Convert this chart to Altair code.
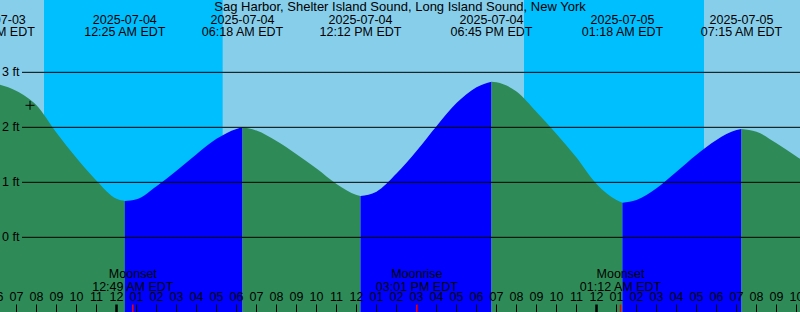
import altair as alt
import pandas as pd

# ---------------- data ----------------
station = "Sag Harbor, Shelter Island Sound, Long Island Sound, New York"
origin = pd.Timestamp("2025-07-04 00:00")
view_start = "2025-07-03 18:10:30"
view_end = "2025-07-05 10:10:30"

extreme_times = ["2025-07-03 17:52", "2025-07-04 00:25", "2025-07-04 06:18",
                 "2025-07-04 12:12", "2025-07-04 18:45", "2025-07-05 01:18",
                 "2025-07-05 07:15"]
extreme_levels = [2.80, 0.66, 2.00, 0.75, 2.83, 0.63, 1.97]
extreme_kinds = ["High", "Low", "High", "Low", "High", "Low", "High"]
extreme_dates = ["2025-07-03", "2025-07-04", "2025-07-04", "2025-07-04",
                 "2025-07-04", "2025-07-05", "2025-07-05"]
extreme_clock = ["05:52 PM EDT", "12:25 AM EDT", "06:18 AM EDT", "12:12 PM EDT",
                 "06:45 PM EDT", "01:18 AM EDT", "07:15 AM EDT"]

reading_times = [
    "2025-07-03 18:00", "2025-07-03 19:00", "2025-07-03 20:00", "2025-07-03 21:00",
    "2025-07-03 22:00", "2025-07-03 23:00", "2025-07-04 00:00", "2025-07-04 01:00",
    "2025-07-04 02:00", "2025-07-04 03:00", "2025-07-04 04:00", "2025-07-04 05:00",
    "2025-07-04 06:00", "2025-07-04 07:00", "2025-07-04 08:00", "2025-07-04 09:00",
    "2025-07-04 10:00", "2025-07-04 11:00", "2025-07-04 12:00", "2025-07-04 13:00",
    "2025-07-04 14:00", "2025-07-04 15:00", "2025-07-04 16:00", "2025-07-04 17:00",
    "2025-07-04 18:00", "2025-07-04 19:00", "2025-07-04 20:00", "2025-07-04 21:00",
    "2025-07-04 22:00", "2025-07-04 23:00", "2025-07-05 00:00", "2025-07-05 01:00",
    "2025-07-05 02:00", "2025-07-05 03:00", "2025-07-05 04:00", "2025-07-05 05:00",
    "2025-07-05 06:00", "2025-07-05 07:00", "2025-07-05 08:00", "2025-07-05 09:00",
    "2025-07-05 10:00", "2025-07-05 10:30"]
reading_levels = [
    2.79, 2.66, 2.40, 1.90,
    1.44, 1.03, 0.70, 0.69,
    0.93, 1.21, 1.51, 1.79,
    1.97, 1.94, 1.75, 1.51,
    1.25, 0.97, 0.77, 0.83,
    1.16, 1.57, 2.02, 2.44,
    2.73, 2.82, 2.65, 2.28,
    1.88, 1.45, 0.97, 0.68,
    0.68, 0.89, 1.19, 1.50,
    1.77, 1.95, 1.92, 1.71,
    1.47, 1.35]

sunset_times = ["2025-07-03 20:22:30", "2025-07-04 20:22:30"]
sunrise_times = ["2025-07-04 05:18:30", "2025-07-05 05:22:30"]

moon_events = ["Moonset", "Moonrise", "Moonset"]
moon_times = ["2025-07-04 00:49", "2025-07-04 15:01", "2025-07-05 01:12"]
moon_clock = ["12:49 AM EDT", "03:01 PM EDT", "01:12 AM EDT"]

level_ticks = [0, 1, 2, 3]
level_labels = ["0 ft", "1 ft", "2 ft", "3 ft"]

hour_ticks = list(range(-6, 35))          # hours from 2025-07-04 00:00
hour_labels = ["%02d" % ((h % 12) or 12) for h in hour_ticks]

now_time = "2025-07-03 19:40:30"
now_level = 2.40

level_domain = [-1.358, 4.315]

# ---------------- tables ----------------
def hrs(s):
    return (pd.Timestamp(s) - origin).total_seconds() / 3600.0

ext_h = [hrs(t) for t in extreme_times]
pts = sorted([(hrs(t), v) for t, v in zip(reading_times, reading_levels)] +
             list(zip(ext_h, extreme_levels)))
rows = []
for i in range(len(ext_h)):
    lo = ext_h[i]
    hi = ext_h[i + 1] if i + 1 < len(ext_h) else 1e9
    phase = "falling" if extreme_kinds[i] == "High" else "rising"
    for h, v in pts:
        if lo <= h <= hi:
            rows.append({"t": h, "level": v, "seg": i, "phase": phase})
tide = pd.DataFrame(rows)

night = pd.DataFrame({"start": [hrs(t) for t in sunset_times],
                      "end": [hrs(t) for t in sunrise_times]})
ext = pd.DataFrame({"t": ext_h, "date": extreme_dates, "clock": extreme_clock})
moon = pd.DataFrame({"t": [hrs(t) for t in moon_times], "event": moon_events,
                     "clock": moon_clock})
levels = pd.DataFrame({"level": level_ticks, "label": level_labels})
hours = pd.DataFrame({"t": hour_ticks, "label": hour_labels,
                      "midnight": [h % 24 == 0 for h in hour_ticks]})
now = pd.DataFrame({"t": [hrs(now_time)], "level": [now_level]})
title_df = pd.DataFrame({"text": [station]})

FONT = "Liberation Sans"
FS = 12.5
xs = alt.Scale(domain=[hrs(view_start), hrs(view_end)], nice=False, zero=False)
ys = alt.Scale(domain=level_domain, nice=False, zero=False)
X = lambda f: alt.X(f, type="quantitative", scale=xs, axis=None)
Y = lambda f: alt.Y(f, type="quantitative", scale=ys, axis=None, stack=None)

night_layer = alt.Chart(night).mark_rect(color="#00BFFF").encode(
    x=X("start"), x2="end", y=alt.value(0), y2=alt.value(312))

area = alt.Chart(tide).mark_area(interpolate="monotone", clip=True,
                                 orient="vertical").encode(
    x=X("t"), y=Y("level"), y2=alt.datum(level_domain[0]),
    color=alt.Color("phase:N", scale=alt.Scale(domain=["falling", "rising"],
                                               range=["#2E8B57", "#0000FF"]),
                    legend=None),
    detail="seg:N")

grid = alt.Chart(levels).mark_rule(color="black", strokeWidth=1).encode(
    y=Y("level"), x=alt.value(22), x2=alt.value(800))
grid_lab = alt.Chart(levels).mark_text(align="left", baseline="middle", font=FONT,
                                       fontSize=FS, color="black").encode(
    y=Y("level"), x=alt.value(2), text="label:N")

title = alt.Chart(title_df).mark_text(align="center", baseline="middle", font=FONT,
                                      fontSize=13, color="black").encode(
    x=alt.value(400), y=alt.value(7), text="text:N")
ext_date = alt.Chart(ext).mark_text(align="center", baseline="middle", font=FONT,
                                    fontSize=FS, color="black").encode(
    x=X("t"), y=alt.value(19.5), text="date:N")
ext_clock = alt.Chart(ext).mark_text(align="center", baseline="middle", font=FONT,
                                     fontSize=FS, color="black").encode(
    x=X("t"), y=alt.value(31.5), text="clock:N")

hour_lab = alt.Chart(hours).mark_text(align="center", baseline="middle", font=FONT,
                                      fontSize=FS, color="black").encode(
    x=X("t"), y=alt.value(296.5), text="label:N")
thin_ticks = alt.Chart(hours).transform_filter("!datum.midnight").mark_rule(
    color="black", strokeWidth=1).encode(x=X("t"), y=alt.value(304.5), y2=alt.value(312))
thick_ticks = alt.Chart(hours).transform_filter("datum.midnight").mark_rule(
    color="black", strokeWidth=2.5).encode(x=X("t"), y=alt.value(304.5), y2=alt.value(312))

moon_ticks = alt.Chart(moon).mark_rule(color="#FF0000", strokeWidth=1.5).encode(
    x=X("t"), y=alt.value(304.5), y2=alt.value(312))
moon_ev = alt.Chart(moon).mark_text(align="center", baseline="middle", font=FONT,
                                    fontSize=FS, color="black").encode(
    x=X("t"), y=alt.value(273.5), text="event:N")
moon_cl = alt.Chart(moon).mark_text(align="center", baseline="middle", font=FONT,
                                    fontSize=FS, color="black").encode(
    x=X("t"), y=alt.value(286.5), text="clock:N")

now_mark = alt.Chart(now).mark_point(shape="M-1,0L1,0M0,-1L0,1", size=81,
                                     filled=False, color="black",
                                     strokeWidth=1, opacity=1).encode(
    x=X("t"), y=Y("level"))

chart = alt.layer(night_layer, area, grid, grid_lab, title, ext_date, ext_clock,
                  hour_lab, thin_ticks, thick_ticks, moon_ticks, moon_ev, moon_cl,
                  now_mark).properties(
    width=800, height=312, padding=0, background="#87CEEB",
    autosize=alt.AutoSizeParams(type="none")
).configure_view(stroke=None, fill="#87CEEB")

chart.save("out.html", embed_options={"renderer": "svg", "actions": False})
